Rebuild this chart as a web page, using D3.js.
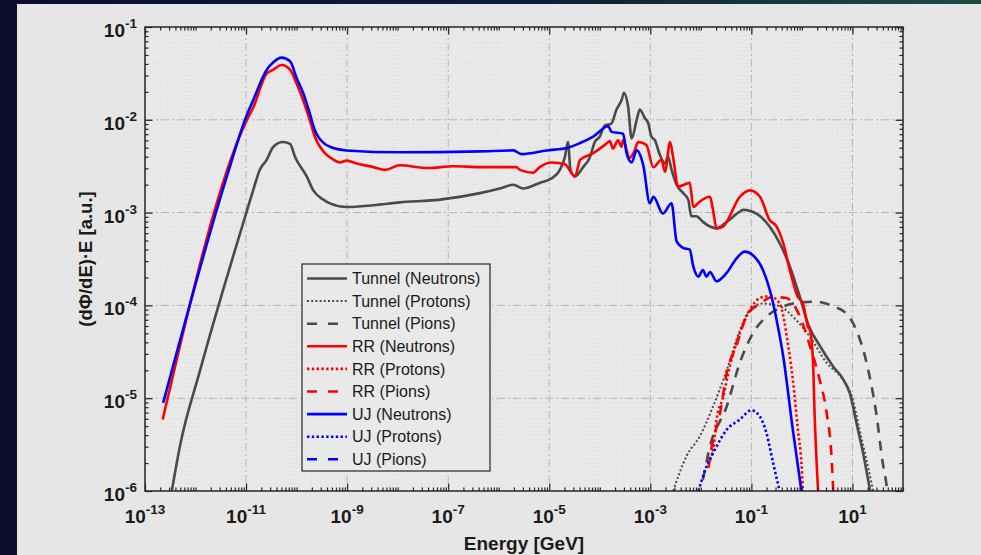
<!DOCTYPE html>
<html>
<head>
<meta charset="utf-8">
<script src="https://cdn.jsdelivr.net/npm/d3@7"></script>
<style>
  html, body { margin: 0; padding: 0; background: #0b1028; overflow: hidden; }
  svg { display: block; }
</style>
</head>
<body>
<div id="chart"></div>
<script>
// every point is [log10(E / GeV), log10((dPhi/dE)*E)]
const tunnelNeutrons = [
  [-12.47,-6.0],[-12.31,-5.52],[-11.91,-4.70],[-11.0,-3.01],[-10.86,-2.76],[-10.73,-2.54],
  [-10.59,-2.43],[-10.46,-2.29],[-10.27,-2.24],[-10.13,-2.26],[-10.03,-2.40],[-9.80,-2.61],
  [-9.67,-2.76],[-9.47,-2.86],[-9.34,-2.90],[-9.01,-2.94],
  [-8.48,-2.92],[-7.96,-2.89],[-7.16,-2.86],[-6.37,-2.79],[-5.98,-2.74],[-5.71,-2.70],
  [-5.52,-2.74],[-5.19,-2.68],[-4.95,-2.63],[-4.79,-2.54],[-4.69,-2.40],[-4.63,-2.24],
  [-4.58,-2.54],[-4.49,-2.61],[-4.33,-2.51],[-4.20,-2.41],[-4.10,-2.24],[-4.0,-2.18],
  [-3.90,-2.06],[-3.77,-2.04],[-3.67,-1.89],[-3.57,-1.79],[-3.52,-1.71],[-3.44,-1.86],
  [-3.37,-2.20],[-3.27,-2.00],[-3.21,-1.89],[-3.11,-1.98],[-3.04,-2.04],[-2.98,-2.18],
  [-2.91,-2.22],[-2.81,-2.38],[-2.71,-2.47],[-2.65,-2.40],[-2.58,-2.54],[-2.48,-2.70],
  [-2.35,-2.79],[-2.25,-2.86],[-2.19,-3.04],[-2.09,-3.04],[-1.96,-3.10],[-1.82,-3.15],
  [-1.69,-3.17],[-1.49,-3.10],[-1.23,-2.99],[-1.16,-2.97],[-0.90,-3.01],[-0.64,-3.15],
  [-0.44,-3.33],[-0.24,-3.58],[-0.04,-3.91],[0.12,-4.20],[0.36,-4.44],[0.62,-4.66],
  [0.82,-4.80],[0.95,-4.95],[1.08,-5.27],[1.21,-5.59],[1.31,-5.88],[1.35,-6.0]
];
const tunnelProtons = [
  [-2.55,-6.0],[-2.28,-5.62],[-2.02,-5.41],[-1.76,-5.09],[-1.49,-4.70],[-1.23,-4.27],
  [-1.03,-4.05],[-0.77,-3.98],[-0.44,-4.01],[-0.11,-4.16],[0.16,-4.34],[0.49,-4.62],
  [0.81,-4.80],[1.01,-5.02],[1.14,-5.34],[1.28,-5.67],[1.41,-6.0]
];
const tunnelPions = [
  [-1.96,-5.88],[-1.82,-5.52],[-1.49,-5.09],[-1.23,-4.62],[-0.97,-4.30],[-0.70,-4.12],
  [-0.44,-4.03],[-0.18,-3.98],[0.29,-3.96],[0.62,-4.01],[0.88,-4.09],[1.08,-4.27],
  [1.28,-4.62],[1.47,-5.16],[1.60,-5.70],[1.67,-5.92],[1.70,-6.05]
];
const rrNeutrons = [
  [-12.65,-5.23],[-11.0,-2.02],[-10.86,-1.87],[-10.59,-1.50],[-10.46,-1.46],[-10.30,-1.41],
  [-10.13,-1.46],[-10.0,-1.61],[-9.87,-1.79],[-9.74,-2.0],[-9.64,-2.18],[-9.44,-2.36],
  [-9.27,-2.43],[-9.14,-2.46],[-9.01,-2.44],[-8.81,-2.47],[-8.48,-2.51],
  [-8.25,-2.54],[-7.96,-2.49],[-7.4,-2.52],[-6.9,-2.50],[-6.37,-2.51],[-6.08,-2.51],
  [-5.65,-2.51],[-5.58,-2.54],[-5.32,-2.57],[-5.19,-2.51],[-4.95,-2.46],[-4.69,-2.48],
  [-4.49,-2.61],[-4.39,-2.43],[-4.13,-2.36],[-3.90,-2.27],[-3.80,-2.23],[-3.74,-2.31],
  [-3.64,-2.22],[-3.57,-2.29],[-3.54,-2.22],[-3.41,-2.41],[-3.31,-2.33],[-3.24,-2.24],
  [-3.08,-2.27],[-2.94,-2.51],[-2.78,-2.43],[-2.71,-2.56],[-2.61,-2.24],[-2.55,-2.40],
  [-2.45,-2.72],[-2.22,-2.68],[-2.15,-2.94],[-2.02,-2.88],[-1.82,-2.83],[-1.76,-2.97],
  [-1.69,-3.17],[-1.56,-3.15],[-1.23,-2.83],[-1.03,-2.76],[-0.83,-2.83],[-0.64,-3.08],
  [-0.50,-3.15],[-0.37,-3.33],[-0.24,-3.62],[-0.08,-3.91],[0.02,-3.98],[0.12,-4.23],
  [0.16,-4.27],[0.22,-4.62],[0.25,-5.16],[0.32,-6.0]
];
const rrProtons = [
  [-1.82,-5.67],[-1.76,-5.56],[-1.69,-5.23],[-1.56,-4.99],[-1.43,-4.66],[-1.23,-4.30],
  [-1.03,-4.05],[-0.83,-3.92],[-0.64,-3.90],[-0.44,-3.98],[-0.27,-4.44],[-0.18,-4.80],
  [-0.08,-5.34],[-0.01,-5.70],[0.02,-6.0]
];
const rrPions = [
  [-1.85,-5.75],[-1.79,-5.54],[-1.62,-5.16],[-1.49,-4.73],[-1.30,-4.44],[-1.10,-4.12],
  [-0.83,-3.98],[-0.57,-3.91],[-0.31,-3.92],[-0.04,-4.12],[0.16,-4.44],[0.35,-4.80],
  [0.49,-5.16],[0.58,-5.59],[0.62,-6.0]
];
const ujNeutrons = [
  [-12.64,-5.05],[-11.38,-2.61],[-11.0,-1.97],[-10.86,-1.79],[-10.59,-1.46],[-10.46,-1.38],
  [-10.30,-1.33],[-10.13,-1.37],[-10.0,-1.55],[-9.87,-1.71],[-9.74,-1.93],[-9.64,-2.11],
  [-9.44,-2.26],[-9.34,-2.29],[-9.01,-2.33],[-7.96,-2.35],[-6.37,-2.34],
  [-5.71,-2.33],[-5.55,-2.37],[-5.05,-2.33],[-4.63,-2.30],[-4.39,-2.25],[-4.13,-2.18],
  [-3.83,-2.07],[-3.77,-2.13],[-3.54,-2.15],[-3.47,-2.36],[-3.37,-2.46],[-3.27,-2.33],
  [-3.14,-2.49],[-3.01,-2.90],[-2.94,-2.83],[-2.75,-3.01],[-2.58,-2.90],[-2.48,-3.31],
  [-2.35,-3.38],[-2.22,-3.40],[-2.15,-3.58],[-2.05,-3.69],[-1.96,-3.62],[-1.89,-3.69],
  [-1.82,-3.64],[-1.69,-3.74],[-1.49,-3.65],[-1.29,-3.49],[-1.13,-3.42],[-0.97,-3.46],
  [-0.77,-3.62],[-0.60,-3.91],[-0.50,-4.16],[-0.37,-4.55],[-0.18,-5.34],[-0.01,-6.0]
];
const ujProtons = [
  [-2.05,-6.0],[-1.89,-5.74],[-1.69,-5.52],[-1.49,-5.34],[-1.23,-5.23],[-1.00,-5.13],
  [-0.83,-5.20],[-0.70,-5.38],[-0.57,-5.70],[-0.44,-6.0]
];
const ujPions = []; // stays below 1e-6, nothing visible

const seriesNames = [
  "Tunnel (Neutrons)", "Tunnel (Protons)", "Tunnel (Pions)",
  "RR (Neutrons)", "RR (Protons)", "RR (Pions)",
  "UJ (Neutrons)", "UJ (Protons)", "UJ (Pions)"
];
const seriesData = [tunnelNeutrons, tunnelProtons, tunnelPions, rrNeutrons, rrProtons, rrPions, ujNeutrons, ujProtons, ujPions];
const xLabelExponents = [-13, -11, -9, -7, -5, -3, -1, 1];
const yLabelExponents = [-6, -5, -4, -3, -2, -1];

const width = 981, height = 555;
const box = { x0: 145, x1: 903, y0: 27, y1: 491 };
const font = "'Liberation Sans', Arial, Helvetica, sans-serif";

const groupColor = { Tunnel: "#4a4a4a", RR: "#ff0000", UJ: "#0000ff" };
const styleOf = name => {
  const grp = name.split(" ")[0];
  if (name.includes("Neutrons")) return { color: groupColor[grp], dash: null, w: 2.6 };
  if (name.includes("Protons")) return { color: groupColor[grp], dash: grp === "Tunnel" ? "2,2.2" : "2.4,2.4", w: grp === "Tunnel" ? 2 : 2.6 };
  return { color: groupColor[grp], dash: "10,8", w: 2.6 };
};

const x = d3.scaleLog().domain([1e-13, 1e2]).range([box.x0, box.x1]);
const y = d3.scaleLog().domain([1e-6, 1e-1]).range([box.y1, box.y0]);

// minor positions: 2..9 in each decade, plus unlabeled decades on x
const xMinor = [], yMinor = [];
for (let d = -13; d <= 1; d++) for (let k = 2; k <= 9; k++) xMinor.push(k * 10 ** d);
for (let d = -12; d <= 2; d += 2) xMinor.push(10 ** d);
for (let d = -6; d <= -2; d++) for (let k = 2; k <= 9; k++) yMinor.push(k * 10 ** d);
const xMajor = xLabelExponents.map(e => 10 ** e);
const yMajor = yLabelExponents.map(e => 10 ** e);

const svg = d3.select("#chart").append("svg")
  .attr("width", width).attr("height", height)
  .attr("viewBox", `0 0 ${width} ${height}`);

// backdrop
const defs = svg.append("defs");
const grad = defs.append("linearGradient").attr("id", "bg").attr("x1", "0").attr("x2", "1").attr("y1", "0").attr("y2", "0");
grad.append("stop").attr("offset", "0").attr("stop-color", "#0a0e2a");
grad.append("stop").attr("offset", "0.55").attr("stop-color", "#0f1d36");
grad.append("stop").attr("offset", "1").attr("stop-color", "#1e4d45");
svg.append("rect").attr("width", width).attr("height", height).attr("fill", "url(#bg)");
svg.append("rect").attr("x", 17).attr("y", 4).attr("width", width - 17).attr("height", height - 4).attr("fill", "#e6e6e6");

defs.append("clipPath").attr("id", "plotClip").append("rect")
  .attr("x", box.x0).attr("y", box.y0).attr("width", box.x1 - box.x0).attr("height", box.y1 - box.y0);

svg.append("rect").attr("x", box.x0).attr("y", box.y0)
  .attr("width", box.x1 - box.x0).attr("height", box.y1 - box.y0).attr("fill", "#e9e9e9");

// grids
const grid = svg.append("g");
grid.selectAll(".gxm").data(xMinor).join("line")
  .attr("x1", d => x(d)).attr("x2", d => x(d)).attr("y1", box.y0).attr("y2", box.y1)
  .attr("stroke", "#d8d8d8").attr("stroke-width", 0.8).attr("stroke-dasharray", "1,3");
grid.selectAll(".gym").data(yMinor).join("line")
  .attr("y1", d => y(d)).attr("y2", d => y(d)).attr("x1", box.x0).attr("x2", box.x1)
  .attr("stroke", "#d8d8d8").attr("stroke-width", 0.8).attr("stroke-dasharray", "1,3");
grid.selectAll(".gx").data(xMajor.slice(1)).join("line")
  .attr("x1", d => x(d)).attr("x2", d => x(d)).attr("y1", box.y0).attr("y2", box.y1)
  .attr("stroke", "#b4b4b4").attr("stroke-width", 1).attr("stroke-dasharray", "8,3,2,3");
grid.selectAll(".gy").data(yMajor.slice(1, -1)).join("line")
  .attr("y1", d => y(d)).attr("y2", d => y(d)).attr("x1", box.x0).attr("x2", box.x1)
  .attr("stroke", "#b4b4b4").attr("stroke-width", 1).attr("stroke-dasharray", "8,3,2,3");

// curves
const line = d3.line().x(d => x(10 ** d[0])).y(d => y(10 ** d[1])).curve(d3.curveMonotoneX);
const curves = svg.append("g").attr("clip-path", "url(#plotClip)");
seriesNames.forEach((name, i) => {
  const s = styleOf(name);
  curves.append("path").datum(seriesData[i])
    .attr("d", line)
    .attr("fill", "none")
    .attr("stroke", s.color)
    .attr("stroke-width", s.w)
    .attr("stroke-linejoin", "round")
    .attr("stroke-dasharray", s.dash);
});

// axes (ticks pointing inward, box on)
const tickStyle = sel => {
  sel.select(".domain").remove();
  sel.selectAll("line").attr("stroke", "#262626").attr("stroke-width", 1.2);
};
const axes = [
  [d3.axisBottom, x, `translate(0,${box.y1})`],
  [d3.axisTop, x, `translate(0,${box.y0})`],
  [d3.axisLeft, y, `translate(${box.x0},0)`],
  [d3.axisRight, y, `translate(${box.x1},0)`]
];
axes.forEach(([fn, sc, tr]) => {
  const isX = sc === x;
  svg.append("g").attr("transform", tr)
    .call(fn(sc).tickValues(isX ? xMinor : yMinor).tickSize(-3.5).tickFormat(""))
    .call(tickStyle);
  svg.append("g").attr("transform", tr)
    .call(fn(sc).tickValues(isX ? xMajor : yMajor).tickSize(-7.5).tickFormat(""))
    .call(tickStyle);
});
svg.append("rect").attr("x", box.x0).attr("y", box.y0)
  .attr("width", box.x1 - box.x0).attr("height", box.y1 - box.y0)
  .attr("fill", "none").attr("stroke", "#262626").attr("stroke-width", 1.5);

// tick labels with superscript exponents
const powLabel = (sel) => {
  sel.append("tspan").text("10");
  sel.append("tspan").attr("dy", -9).attr("font-size", 13.5).text(e => (e < 0 ? "-" : "") + Math.abs(e));
};
svg.append("g").selectAll("text").data(xLabelExponents).join("text")
  .attr("x", e => x(10 ** e)).attr("y", 523)
  .attr("text-anchor", "middle").attr("font-family", font).attr("font-weight", "bold")
  .attr("font-size", 19).attr("fill", "#1a1a1a")
  .call(powLabel);
svg.append("g").selectAll("text").data(yLabelExponents).join("text")
  .attr("x", box.x0 - 8).attr("y", e => y(10 ** e) + 10)
  .attr("text-anchor", "end").attr("font-family", font).attr("font-weight", "bold")
  .attr("font-size", 19).attr("fill", "#1a1a1a")
  .call(powLabel);

// axis titles
svg.append("text")
  .attr("x", (box.x0 + box.x1) / 2).attr("y", 550)
  .attr("text-anchor", "middle").attr("font-family", font).attr("font-weight", "bold")
  .attr("font-size", 19).attr("fill", "#1a1a1a")
  .text("Energy [GeV]");
svg.append("text")
  .attr("transform", `translate(92,${(box.y0 + box.y1) / 2}) rotate(-90)`)
  .attr("text-anchor", "middle").attr("font-family", font).attr("font-weight", "bold")
  .attr("font-size", 18.5).attr("fill", "#1a1a1a")
  .text("(dΦ/dE)·E [a.u.]");

// legend
const legend = svg.append("g").attr("transform", "translate(302,264)");
legend.append("rect").attr("width", 188).attr("height", 207)
  .attr("fill", "#e9e9e9").attr("stroke", "#262626").attr("stroke-width", 1.2);
seriesNames.forEach((name, i) => {
  const s = styleOf(name);
  const row = legend.append("g").attr("transform", `translate(0,${14.5 + i * 22.6})`);
  row.append("line").attr("x1", 5).attr("x2", 45).attr("y1", 0).attr("y2", 0)
    .attr("stroke", s.color).attr("stroke-width", s.w)
    .attr("stroke-dasharray", s.dash ? (s.dash === "10,8" ? "10,11" : s.dash) : null);
  row.append("text").attr("x", 50).attr("y", 0).attr("dy", "0.36em")
    .attr("font-family", font).attr("font-size", 16).attr("fill", "#1a1a1a")
    .text(name);
});
</script>
</body>
</html>
